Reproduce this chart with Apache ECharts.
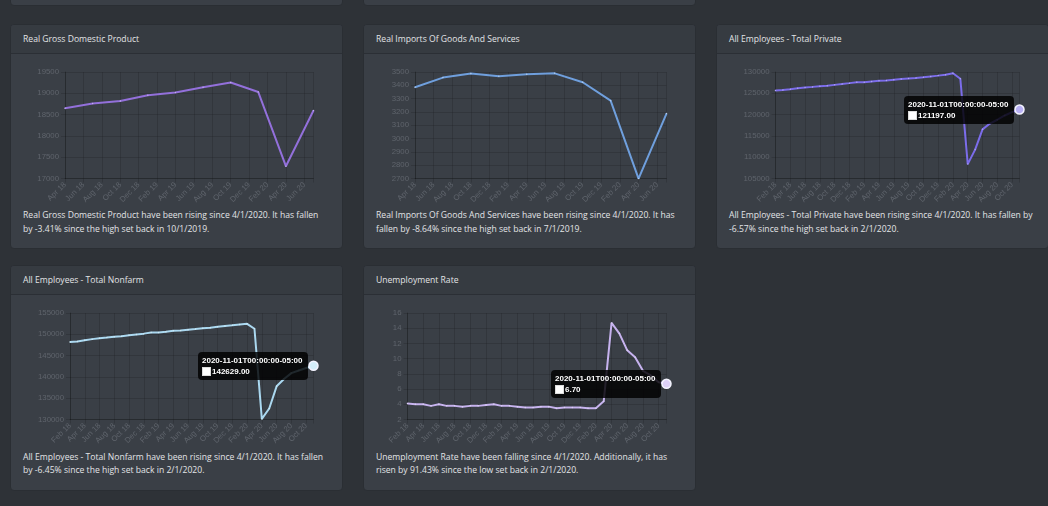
<!DOCTYPE html>
<html><head><meta charset="utf-8">
<script src="https://cdn.jsdelivr.net/npm/echarts@6/dist/echarts.min.js"></script>
<style>
html,body{margin:0;padding:0;background:#2e3237;width:1048px;height:506px;overflow:hidden;font-family:"Segoe UI","Open Sans",sans-serif;}
.card{position:absolute;width:333.5px;height:225.5px;background:#3a3f46;border:1px solid #2a2e33;border-radius:4px;box-sizing:border-box;overflow:hidden}
.hdr{position:absolute;left:0;top:0;right:0;height:29px;background:#363b41;border-bottom:1px solid #2b2f35;box-sizing:border-box;color:#e2e4e6;font-size:8.6px;line-height:29px;padding-left:12.5px;white-space:nowrap}
.chart{position:absolute;left:-1px;top:28px;width:333px;height:153px}
.txt{position:absolute;left:12.5px;top:184.5px;color:#e2e4e6;font-size:8.6px;line-height:13.7px;white-space:nowrap}
</style></head>
<body>
<div class="card" style="left:9.5px;top:-220px"></div>
<div class="card" style="left:362.5px;top:-220px"></div>

<div class="card" style="left:9.5px;top:23.5px"><div class="hdr">Real Gross Domestic Product</div><div class="chart" id="c1"></div>
<div class="txt">Real Gross Domestic Product have been rising since 4/1/2020. It has fallen<br>by -3.41% since the high set back in 10/1/2019.</div></div>

<div class="card" style="left:362.5px;top:23.5px"><div class="hdr">Real Imports Of Goods And Services</div><div class="chart" id="c2"></div>
<div class="txt">Real Imports Of Goods And Services have been rising since 4/1/2020. It has<br>fallen by -8.64% since the high set back in 7/1/2019.</div></div>

<div class="card" style="left:715.5px;top:23.5px"><div class="hdr">All Employees - Total Private</div><div class="chart" id="c3"></div>
<div class="txt">All Employees - Total Private have been rising since 4/1/2020. It has fallen by<br>-6.57% since the high set back in 2/1/2020.</div></div>

<div class="card" style="left:9.5px;top:265px"><div class="hdr">All Employees - Total Nonfarm</div><div class="chart" id="c4"></div>
<div class="txt">All Employees - Total Nonfarm have been rising since 4/1/2020. It has fallen<br>by -6.45% since the high set back in 2/1/2020.</div></div>

<div class="card" style="left:362.5px;top:265px"><div class="hdr">Unemployment Rate</div><div class="chart" id="c5"></div>
<div class="txt">Unemployment Rate have been falling since 4/1/2020. Additionally, it has<br>risen by 91.43% since the low set back in 2/1/2020.</div></div>

<script>
// ---- data ----
const monthNames = ['Jan','Feb','Mar','Apr','May','Jun','Jul','Aug','Sep','Oct','Nov','Dec'];

const quarterDates = ['2018-04','2018-07','2018-10','2019-01','2019-04','2019-07','2019-10','2020-01','2020-04','2020-07'];
const gdpValues = [18650, 18760, 18820, 18955, 19020, 19140, 19253, 19030, 17290, 18596];
const importsValues = [3386, 3458, 3488, 3468, 3483, 3490, 3423, 3285, 2700, 3188];

const monthDates = ['2018-02','2018-03','2018-04','2018-05','2018-06','2018-07','2018-08','2018-09','2018-10','2018-11','2018-12',
  '2019-01','2019-02','2019-03','2019-04','2019-05','2019-06','2019-07','2019-08','2019-09','2019-10','2019-11','2019-12',
  '2020-01','2020-02','2020-03','2020-04','2020-05','2020-06','2020-07','2020-08','2020-09','2020-10','2020-11'];
const privateValues = [125680, 125790, 125960, 126180, 126370, 126510, 126670, 126780, 126980, 127180, 127390,
  127620, 127610, 127790, 127960, 128010, 128190, 128330, 128470, 128610, 128770, 128970, 129150,
  129350, 129720, 128400, 108390, 111800, 116550, 117900, 118800, 119800, 120600, 121197];
const nonfarmValues = [148170, 148330, 148600, 148870, 149100, 149250, 149450, 149560, 149790, 149980, 150160,
  150440, 150440, 150600, 150810, 150880, 151060, 151230, 151410, 151560, 151770, 151950, 152120,
  152310, 152463, 151300, 130160, 132600, 137800, 139500, 140900, 141500, 142100, 142629];
const unemploymentValues = [4.1, 4.0, 4.0, 3.8, 4.0, 3.8, 3.8, 3.7, 3.8, 3.8, 3.9,
  4.0, 3.8, 3.8, 3.7, 3.6, 3.6, 3.7, 3.7, 3.5, 3.6, 3.6, 3.6,
  3.5, 3.5, 4.4, 14.7, 13.3, 11.1, 10.2, 8.4, 7.8, 6.9, 6.7];

// ---- helpers ----
function monthIndex(d, start) {
  const [y, m] = d.split('-').map(Number);
  const [sy, sm] = start.split('-').map(Number);
  return (y - sy) * 12 + (m - sm);
}
function monthLabel(v, start) {
  const [sy, sm] = start.split('-').map(Number);
  const t = sy * 12 + (sm - 1) + v;
  return monthNames[t % 12] + ' ' + String(Math.floor(t / 12)).slice(2);
}
const gridColor = 'rgba(0,0,0,0.13)';
const axisColor = 'rgba(0,0,0,0.22)';
const labelColor = '#5f646c';

function makeChart(id, cfg) {
  const chart = echarts.init(document.getElementById(id), null, {renderer: 'canvas'});
  const start = cfg.dates[0];
  const last = cfg.dates.length - 1;
  const data = cfg.dates.map((d, i) => {
    const v = [monthIndex(d, start), cfg.values[i]];
    if (cfg.tip && i === last) {
      return {value: v, symbolSize: 9, itemStyle: {color: cfg.hover, borderColor: '#f4f4ff', borderWidth: 1.5}};
    }
    return v;
  });
  const xMax = monthIndex(cfg.dates[last], start);
  const option = {
    animation: false,
    grid: {left: cfg.left, right: 29.5, top: 19, bottom: 26},
    xAxis: {
      type: 'value', min: 0, max: xMax, interval: 2,
      axisLine: {show: true, lineStyle: {color: axisColor}},
      axisTick: {show: true, length: 4, lineStyle: {color: gridColor}},
      splitLine: {show: true, lineStyle: {color: gridColor}},
      axisLabel: {rotate: 45, margin: 5, color: labelColor, fontSize: 7.8, fontFamily: 'Liberation Sans',
        formatter: v => (v % 2 === 0 ? monthLabel(v, start) : '')}
    },
    yAxis: {
      type: 'value', min: cfg.min, max: cfg.max, interval: cfg.interval,
      axisLine: {show: true, lineStyle: {color: axisColor}},
      axisTick: {show: true, length: 4, lineStyle: {color: gridColor}},
      splitLine: {show: true, lineStyle: {color: gridColor}},
      axisLabel: {margin: 6, color: labelColor, fontSize: 7.8, fontFamily: 'Liberation Sans',
        formatter: v => String(v)}
    },
    tooltip: {
      show: !!cfg.tip, trigger: 'item', triggerOn: 'none', alwaysShowContent: true, transitionDuration: 0,
      backgroundColor: 'rgba(0,0,0,0.82)', borderWidth: 0, borderRadius: 4, padding: [3, 5, 3, 4],
      extraCssText: 'box-shadow:none;',
      position: (p, params, dom, rect, size) => [p[0] - size.contentSize[0] - 6, p[1] - size.contentSize[1] / 2],
      formatter: (p) => {
        const d = cfg.dates[p.dataIndex] + '-01T00:00:00-05:00';
        const val = p.value[1].toFixed(2);
        return '<div style="font:bold 8px \'Liberation Sans\',Arial;line-height:11px;color:#fff">' + d + '</div>' +
          '<div style="font:bold 8px \'Liberation Sans\',Arial;line-height:11px;color:#fff;white-space:nowrap">' +
          '<span style="display:inline-block;width:7px;height:7px;background:#fff;border:1px solid #ddd;vertical-align:-2px;margin-right:1px"></span>' + val + '</div>';
      }
    },
    series: [{
      type: 'line', data: data, showSymbol: true, symbol: 'circle', symbolSize: 1.5,
      itemStyle: {color: cfg.dot},
      lineStyle: {color: cfg.color, width: 2},
      emphasis: {disabled: true}
    }]
  };
  chart.setOption(option);
  if (cfg.tip) chart.dispatchAction({type: 'showTip', seriesIndex: 0, dataIndex: last});
}

makeChart('c1', {dates: quarterDates, values: gdpValues, min: 17000, max: 19500, interval: 500, left: 55,
  color: '#9370db', dot: '#c2aef0'});
makeChart('c2', {dates: quarterDates, values: importsValues, min: 2700, max: 3500, interval: 100, left: 52,
  color: '#6f9fdd', dot: '#b4cdee'});
makeChart('c3', {dates: monthDates, values: privateValues, min: 105000, max: 130000, interval: 5000, left: 59.5,
  color: '#7b6cea', dot: '#ada3f3', hover: '#b8b0f4', tip: true});
makeChart('c4', {dates: monthDates, values: nonfarmValues, min: 130000, max: 155000, interval: 5000, left: 60,
  color: '#aad8f0', dot: '#cfeaf7', hover: '#d4eefa', tip: true});
makeChart('c5', {dates: monthDates, values: unemploymentValues, min: 2, max: 16, interval: 2, left: 44.5,
  color: '#c6b2ee', dot: '#ddd1f6', hover: '#ddd0f7', tip: true});
</script>
</body></html>
